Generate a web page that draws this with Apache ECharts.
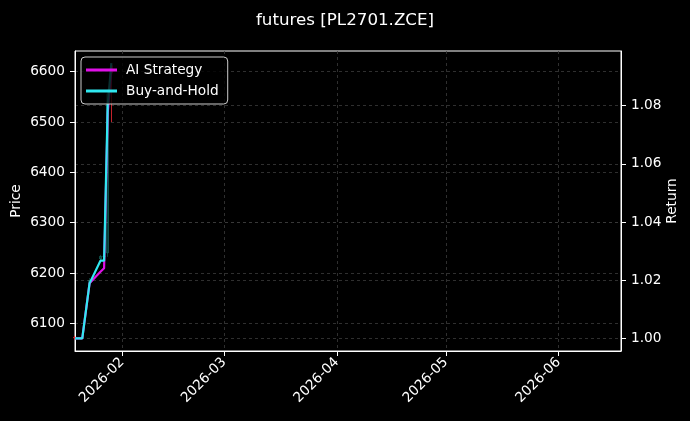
<!DOCTYPE html>
<html>
<head>
<meta charset="utf-8">
<script src="https://cdn.jsdelivr.net/npm/echarts@6/dist/echarts.min.js"></script>
<style>
html,body{margin:0;padding:0;background:#000;}
#chart{width:690px;height:421px;}
</style>
</head>
<body>
<div id="chart"></div>
<script>
// ---- data ----
var dates = ['2026-01-19','2026-01-21','2026-01-23','2026-01-26','2026-01-27','2026-01-28','2026-01-29'];
var aiReturn = [1.000, 1.000, 1.0189, 1.0229, 1.0241, 1.0775, 1.0920];
var bhReturn = [1.000, 1.000, 1.0189, 1.0267, 1.0267, 1.0802, 1.0946];
// candles: [open, close, low, high]
var ohlc = [
  [6072, 6071, 6068, 6075],
  [6071, 6071, 6069, 6074],
  [6180, 6185, 6176, 6190],
  [6228, 6233, 6225, 6236],
  [6233, 6233, 6228, 6238],
  [6240, 6556, 6232, 6566],
  [6612, 6598, 6500, 6614]
];
var monthTicks = ['2026-02-01','2026-03-01','2026-04-01','2026-05-01','2026-06-01'];
var priceTicks = [6100, 6200, 6300, 6400, 6500, 6600];
var returnTicks = [1.00, 1.02, 1.04, 1.06, 1.08];

function ts(s){
  var p = s.split(/[- :]/).map(Number);
  return new Date(p[0], p[1]-1, p[2], p[3]||0, p[4]||0).getTime();
}
var xMin = ts('2026-01-19 00:00');
var xMax = ts('2026-06-18 04:00');
var monthTickTs = monthTicks.map(ts);
var dateTs = dates.map(ts);

var font = 'DejaVu Sans';
var gridLine = {show: true, lineStyle: {color: '#3c3c3c', type: [3,3], width: 0.8}};
var chart = echarts.init(document.getElementById('chart'));
chart.setOption({
  backgroundColor: '#000',
  animation: false,
  title: {
    text: 'futures [PL2701.ZCE]',
    left: 'center', top: 7,
    textStyle: {color: '#fff', fontSize: 16.7, fontWeight: 'normal', fontFamily: font}
  },
  legend: {
    data: ['AI Strategy', 'Buy-and-Hold'],
    orient: 'vertical',
    left: 81, top: 57,
    padding: [6, 9, 6, 5],
    itemGap: 7,
    icon: 'rect',
    itemWidth: 31, itemHeight: 3,
    backgroundColor: 'rgba(0,0,0,0.8)',
    borderColor: '#cccccc', borderWidth: 1, borderRadius: 4,
    textStyle: {color: '#fff', fontSize: 13.7, fontFamily: font, padding: [0,0,0,4]}
  },
  grid: {left: 75, right: 69, top: 51, bottom: 70, outerBoundsMode: 'none', containLabel: false,
    show: true, borderColor: '#fff', borderWidth: 1, backgroundColor: 'transparent'},
  xAxis: {
    type: 'value', min: xMin, max: xMax, scale: true,
    axisLine: {show: true, lineStyle: {color: '#fff'}},
    axisTick: {show: true, length: 5, lineStyle: {color: '#fff'}, customValues: monthTickTs},
    axisLabel: {
      customValues: monthTickTs,
      rotate: 45, color: '#fff', fontSize: 13.7, fontFamily: font, margin: 9,
      formatter: function(v){ var d = new Date(v); var m = d.getMonth()+1; return d.getFullYear() + '-' + (m<10?'0':'') + m; }
    },
    splitLine: gridLine
  },
  yAxis: [
    {
      type: 'value', position: 'left', min: 6044.9, max: 6641.2,
      name: 'Price', nameLocation: 'middle', nameGap: 52, nameMoveOverlap: false,
      nameTextStyle: {color: '#fff', fontSize: 13.7, fontFamily: font},
      axisLine: {show: true, lineStyle: {color: '#fff'}},
      axisTick: {show: true, length: 5, lineStyle: {color: '#fff'}, customValues: priceTicks},
      axisLabel: {customValues: priceTicks, color: '#fff', fontSize: 13.7, fontFamily: font, margin: 10,
        formatter: function(v){ return String(Math.round(v)); }},
      splitLine: gridLine
    },
    {
      type: 'value', position: 'right', min: 0.99564, max: 1.0988,
      name: 'Return', nameLocation: 'middle', nameGap: 44, nameMoveOverlap: false,
      nameTextStyle: {color: '#fff', fontSize: 13.7, fontFamily: font},
      axisLine: {show: true, lineStyle: {color: '#fff'}},
      axisTick: {show: true, length: 5, lineStyle: {color: '#fff'}, customValues: returnTicks},
      axisLabel: {customValues: returnTicks, color: '#fff', fontSize: 13.7, fontFamily: font, margin: 10,
        formatter: function(v){ return Number(v).toFixed(2); }},
      splitLine: gridLine
    }
  ],
  series: [
    {
      name: 'Price', type: 'candlestick', yAxisIndex: 0, barWidth: 3,
      data: dateTs.map(function(d, i){ return [d].concat(ohlc[i]); }),
      itemStyle: {color: 'rgba(38,166,154,0.35)', color0: 'rgba(230,40,50,0.85)', borderColor: 'rgba(38,166,154,0.35)', borderColor0: 'rgba(230,40,50,0.85)', borderWidth: 1}
    },
    {
      name: 'AI Strategy', type: 'line', yAxisIndex: 1, showSymbol: false, symbol: 'none',
      data: dateTs.map(function(d, i){ return [d, aiReturn[i]]; }),
      lineStyle: {color: '#e010e8', width: 2.2}, itemStyle: {color: '#e010e8'}
    },
    {
      name: 'Buy-and-Hold', type: 'line', yAxisIndex: 1, showSymbol: false, symbol: 'none',
      data: dateTs.map(function(d, i){ return [d, bhReturn[i]]; }),
      lineStyle: {color: '#30e8f0', width: 2.2}, itemStyle: {color: '#30e8f0'}
    }
  ]
});
</script>
</body>
</html>
